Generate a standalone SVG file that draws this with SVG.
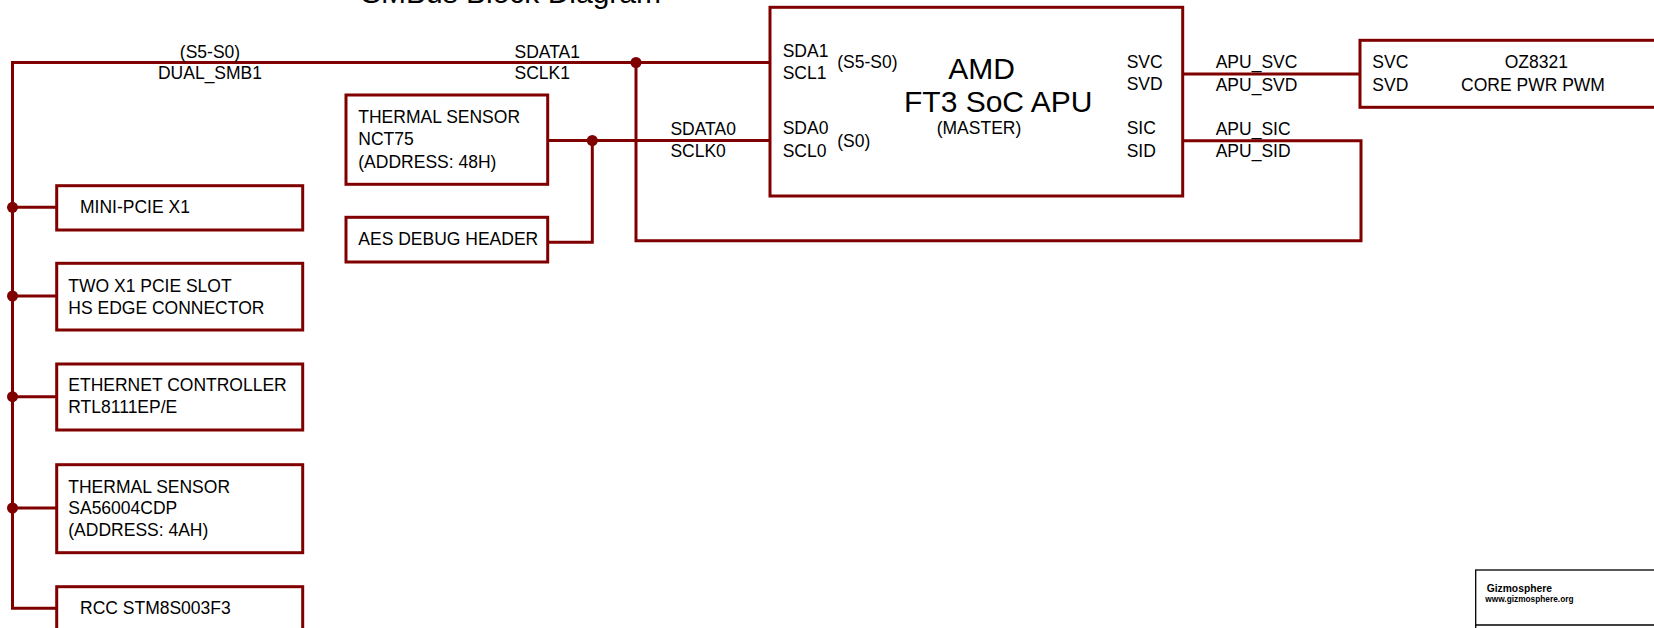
<svg xmlns="http://www.w3.org/2000/svg" width="1654" height="628" viewBox="0 0 1654 628">
<style>
.box{fill:none;stroke:#800000;stroke-width:3}
.wire{fill:none;stroke:#800000;stroke-width:3}
.dot{fill:#800000}
text{font-family:"Liberation Sans",Arial,sans-serif;fill:#000}
.t{font-size:17.5px}
.m{text-anchor:middle}
.big{font-size:30px}
</style>
<rect width="1654" height="628" fill="#fff"/>
<text x="361" y="3" class="big" textLength="300" lengthAdjust="spacing">SMBus Block Diagram</text>

<g id="connectors">
<path class="wire" d="M57 608.3H12.5V62.5H770"/>
<path class="wire" d="M12.5 207.3H57M12.5 296H57M12.5 396.7H57M12.5 508H57"/>
<path class="wire" d="M636 62.5V240.7H1361V140.7H1182.7"/>
<path class="wire" d="M547.7 140.5H770"/>
<path class="wire" d="M592.3 140.5V242.3H547.7"/>
<path class="wire" d="M1182.7 74H1360"/>
<circle class="dot" cx="12.5" cy="207.3" r="5.5"/>
<circle class="dot" cx="12.5" cy="296" r="5.5"/>
<circle class="dot" cx="12.5" cy="396.7" r="5.5"/>
<circle class="dot" cx="12.5" cy="508" r="5.5"/>
<circle class="dot" cx="636" cy="62.5" r="5.5"/>
<circle class="dot" cx="592.3" cy="140.5" r="5.5"/>
<text x="210" y="57.7" class="t m">(S5-S0)</text>
<text x="210" y="79.3" class="t m">DUAL_SMB1</text>
<text x="514.5" y="57.5" class="t">SDATA1</text>
<text x="514.5" y="79.3" class="t">SCLK1</text>
<text x="670.4" y="135" class="t">SDATA0</text>
<text x="670.4" y="156.5" class="t">SCLK0</text>
<text x="1215.7" y="68.3" class="t">APU_SVC</text>
<text x="1215.7" y="90.7" class="t">APU_SVD</text>
<text x="1215.7" y="135" class="t">APU_SIC</text>
<text x="1215.7" y="157.3" class="t">APU_SID</text>
</g>

<g id="apu">
<rect class="box" x="770" y="7.3" width="412.7" height="188.7"/>
<text x="782.7" y="57.3" class="t">SDA1</text>
<text x="782.7" y="79" class="t">SCL1</text>
<text x="837.3" y="68" class="t">(S5-S0)</text>
<text x="782.7" y="134" class="t">SDA0</text>
<text x="782.7" y="156.7" class="t">SCL0</text>
<text x="837.3" y="146.5" class="t">(S0)</text>
<text x="948.3" y="79.3" class="big">AMD</text>
<text x="904" y="111.7" class="big">FT3 SoC APU</text>
<text x="936.7" y="134" class="t">(MASTER)</text>
<text x="1126.7" y="67.7" class="t">SVC</text>
<text x="1126.7" y="90" class="t">SVD</text>
<text x="1126.7" y="134" class="t">SIC</text>
<text x="1126.7" y="156.7" class="t">SID</text>
</g>

<g id="oz8321">
<rect class="box" x="1360" y="40.3" width="310" height="67"/>
<text x="1372.3" y="68.3" class="t">SVC</text>
<text x="1372.3" y="90.7" class="t">SVD</text>
<text x="1536.3" y="68.3" class="t m">OZ8321</text>
<text x="1533" y="90.7" class="t m">CORE PWR PWM</text>
</g>

<g id="nct75">
<rect class="box" x="346" y="95" width="201.7" height="89.3"/>
<text x="358.3" y="122.7" class="t">THERMAL SENSOR</text>
<text x="358.3" y="145.3" class="t">NCT75</text>
<text x="358.3" y="168.3" class="t">(ADDRESS: 48H)</text>
</g>

<g id="aes">
<rect class="box" x="346" y="217.3" width="201.7" height="44.7"/>
<text x="358.3" y="245" class="t">AES DEBUG HEADER</text>
</g>

<g id="minipcie">
<rect class="box" x="56.7" y="185.7" width="246" height="44.3"/>
<text x="80" y="212.7" class="t">MINI-PCIE X1</text>
</g>

<g id="pcieslot">
<rect class="box" x="56.7" y="263.3" width="246" height="66.7"/>
<text x="68.3" y="291.7" class="t">TWO X1 PCIE SLOT</text>
<text x="68.3" y="314.3" class="t">HS EDGE CONNECTOR</text>
</g>

<g id="ethernet">
<rect class="box" x="56.7" y="364" width="246" height="66"/>
<text x="68.3" y="391" class="t">ETHERNET CONTROLLER</text>
<text x="68.3" y="413.3" class="t">RTL8111EP/E</text>
</g>

<g id="sa56004">
<rect class="box" x="56.7" y="464.7" width="246" height="88"/>
<text x="68.3" y="492.7" class="t">THERMAL SENSOR</text>
<text x="68.3" y="514.3" class="t">SA56004CDP</text>
<text x="68.3" y="536.3" class="t">(ADDRESS: 4AH)</text>
</g>

<g id="rcc">
<rect class="box" x="56.7" y="586.7" width="246" height="60"/>
<text x="80" y="614.3" class="t">RCC STM8S003F3</text>
</g>

<g id="titleblock">
<rect x="1475.7" y="570" width="200" height="80" fill="none" stroke="#000" stroke-width="1.3"/>
<line x1="1475.7" y1="625" x2="1654" y2="625" stroke="#000" stroke-width="1.3"/>
<text x="1486.7" y="591.7" font-size="10.3" font-weight="bold">Gizmosphere</text>
<text x="1485.3" y="601.7" font-size="8.3" font-weight="bold">www.gizmosphere.org</text>
</g>
</svg>
